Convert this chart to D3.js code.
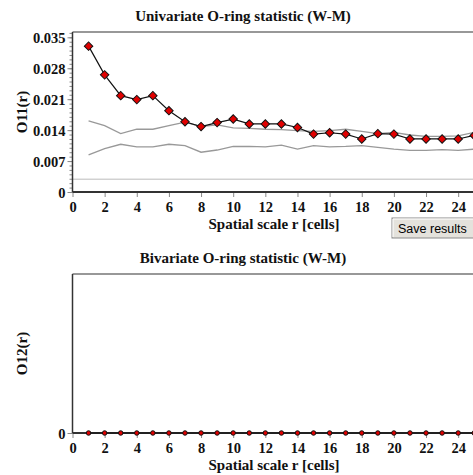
<!DOCTYPE html>
<html lang="en">
<head>
<meta charset="UTF-8">
<title>O-ring statistic</title>
<script src="https://d3js.org/d3.v7.min.js"></script>
<style>
  body { margin: 0; background: #fff; }
  svg { display: block; }
  .title, .axis-label, .tick-label { font-family: 'Liberation Serif', 'Times New Roman', serif; font-weight: bold; fill: #111; }
  .title { font-size: 15px; }
  .axis-label { font-size: 15px; }
  .tick-label { font-size: 14.5px; }
  .btn-text { font-family: 'Liberation Sans', Arial, sans-serif; font-size: 12.5px; fill: #000; }
</style>
</head>
<body>
<svg id="chart" width="473" height="475"></svg>
<script>
// r = 1..25 (cells)
const scales = d3.range(1, 26);
const o11 = [0.0330, 0.0265, 0.0218, 0.0209, 0.0218, 0.0184, 0.0159, 0.0148, 0.0157, 0.0165,
             0.0154, 0.0154, 0.0154, 0.0146, 0.0131, 0.0134, 0.0131, 0.0120, 0.0132, 0.0131,
             0.0120, 0.0120, 0.0120, 0.0120, 0.0128];
const envUpper = [0.0161, 0.0150, 0.0132, 0.0142, 0.0142, 0.0150, 0.0158, 0.0148, 0.0152, 0.0145,
                  0.0144, 0.0142, 0.0141, 0.0139, 0.0137, 0.0139, 0.0142, 0.0137, 0.0132, 0.0135,
                  0.0129, 0.0126, 0.0126, 0.0127, 0.0135];
const envLower = [0.0084, 0.0098, 0.0108, 0.0102, 0.0102, 0.0108, 0.0105, 0.0090, 0.0095, 0.0103,
                  0.0103, 0.0102, 0.0106, 0.0097, 0.0105, 0.0102, 0.0103, 0.0105, 0.0101, 0.0097,
                  0.0094, 0.0094, 0.0096, 0.0094, 0.0097];
const meanDensity = 0.0029;
const o12 = scales.map(() => 0);

const yTicksTop = [0, 0.007, 0.014, 0.021, 0.028, 0.035];
const xTicks = d3.range(0, 26, 2);

const svg = d3.select("#chart");
const left = 72.5;

const x = d3.scaleLinear().domain([0, 25.6]).range([left, left + 25.6 * 16.07]);

function drawPanel(cfg) {
  const y = d3.scaleLinear().domain(cfg.yDomain).range([cfg.bottom, cfg.top]);
  const g = svg.append("g");

  // title
  g.append("text").attr("class", "title")
    .attr("x", 243).attr("y", cfg.top - 11)
    .attr("text-anchor", "middle").text(cfg.title);

  // minor y ticks
  if (cfg.minorTicks) {
    g.append("g")
      .attr("transform", `translate(${left},0)`)
      .call(d3.axisLeft(y).tickValues(cfg.minorTicks).tickSize(3).tickFormat(""))
      .call(a => a.select(".domain").remove())
      .call(a => a.selectAll("line").attr("stroke", "#888"));
  }
  // major y ticks
  const ya = g.append("g")
    .attr("transform", `translate(${left},0)`)
    .call(d3.axisLeft(y).tickValues(cfg.yTicks).tickSize(5).tickPadding(2).tickFormat(cfg.yFormat));
  ya.select(".domain").remove();
  ya.selectAll("line").attr("stroke", "#888");
  ya.selectAll("text").attr("class", "tick-label").attr("dy", "0.35em");

  // x ticks
  const xa = g.append("g")
    .attr("transform", `translate(0,${cfg.bottom})`)
    .call(d3.axisBottom(x).tickValues(xTicks).tickSize(5).tickFormat(d3.format("d")));
  xa.select(".domain").remove();
  xa.selectAll("line").attr("stroke", "#888");
  xa.selectAll("text").attr("class", "tick-label").attr("y", 19.5).attr("dy", 0);

  // reference lines
  if (cfg.mean !== undefined) {
    g.append("line")
      .attr("x1", left).attr("x2", 480)
      .attr("y1", y(cfg.mean)).attr("y2", y(cfg.mean))
      .attr("stroke", "#bbb").attr("stroke-width", 1);
  }
  const line = d3.line().x((d, i) => x(scales[i])).y(d => y(d));
  (cfg.envelopes || []).forEach(env => {
    g.append("path").attr("d", line(env))
      .attr("fill", "none").attr("stroke", "#999").attr("stroke-width", 1.3);
  });

  // frame: top, left, bottom
  g.append("line").attr("x1", left).attr("x2", 480).attr("y1", cfg.top).attr("y2", cfg.top)
    .attr("stroke", "#333").attr("stroke-width", 1.2);
  g.append("line").attr("x1", left).attr("x2", left).attr("y1", cfg.top).attr("y2", cfg.bottom)
    .attr("stroke", "#333").attr("stroke-width", 1.5);
  g.append("line").attr("x1", left).attr("x2", 480).attr("y1", cfg.bottom).attr("y2", cfg.bottom)
    .attr("stroke", "#333").attr("stroke-width", 2);

  // observed series
  g.append("path").attr("d", line(cfg.values))
    .attr("fill", "none").attr("stroke", "#111").attr("stroke-width", 1.2);
  const sym = d3.symbol().type(cfg.marker).size(cfg.markerSize);
  g.selectAll(".pt").data(cfg.values).enter().append("path")
    .attr("transform", (d, i) => `translate(${x(scales[i])},${y(d)})` + (cfg.marker === d3.symbolSquare ? " rotate(45)" : ""))
    .attr("d", sym)
    .attr("fill", "#e00000").attr("stroke", "#111").attr("stroke-width", 1);

  // axis labels
  g.append("text").attr("class", "axis-label")
    .attr("x", 274).attr("y", cfg.bottom + 37)
    .attr("text-anchor", "middle").text("Spatial scale r [cells]");
  g.append("text").attr("class", "axis-label")
    .attr("transform", `translate(27,${(cfg.top + cfg.bottom) / 2}) rotate(-90)`)
    .attr("text-anchor", "middle").text(cfg.yLabel);
}

drawPanel({
  title: "Univariate O-ring statistic (W-M)",
  yLabel: "O11(r)",
  top: 32, bottom: 192,
  yDomain: [0, 0.0362],
  yTicks: yTicksTop,
  minorTicks: d3.range(0, 0.0361, 0.001),
  yFormat: d => d === 0 ? "0" : d3.format(".3f")(d),
  mean: meanDensity,
  envelopes: [envUpper, envLower],
  values: o11,
  marker: d3.symbolSquare,
  markerSize: 36
});

drawPanel({
  title: "Bivariate O-ring statistic (W-M)",
  yLabel: "O12(r)",
  top: 274, bottom: 433,
  yDomain: [0, 1],
  yTicks: [0],
  yFormat: d => "0",
  values: o12,
  marker: d3.symbolCircle,
  markerSize: 16
});

// Save results button
const btn = svg.append("g").attr("transform", "translate(392,218)");
btn.append("rect").attr("width", 85).attr("height", 20)
  .attr("fill", "#e4e2dc").attr("stroke", "#8a8a8a");
btn.append("line").attr("x1", 1).attr("x2", 85).attr("y1", 1).attr("y2", 1).attr("stroke", "#fff");
btn.append("line").attr("x1", 1).attr("x2", 1).attr("y1", 1).attr("y2", 19).attr("stroke", "#fff");
btn.append("text").attr("class", "btn-text").attr("x", 6).attr("y", 14.5).text("Save results");
</script>
</body>
</html>
